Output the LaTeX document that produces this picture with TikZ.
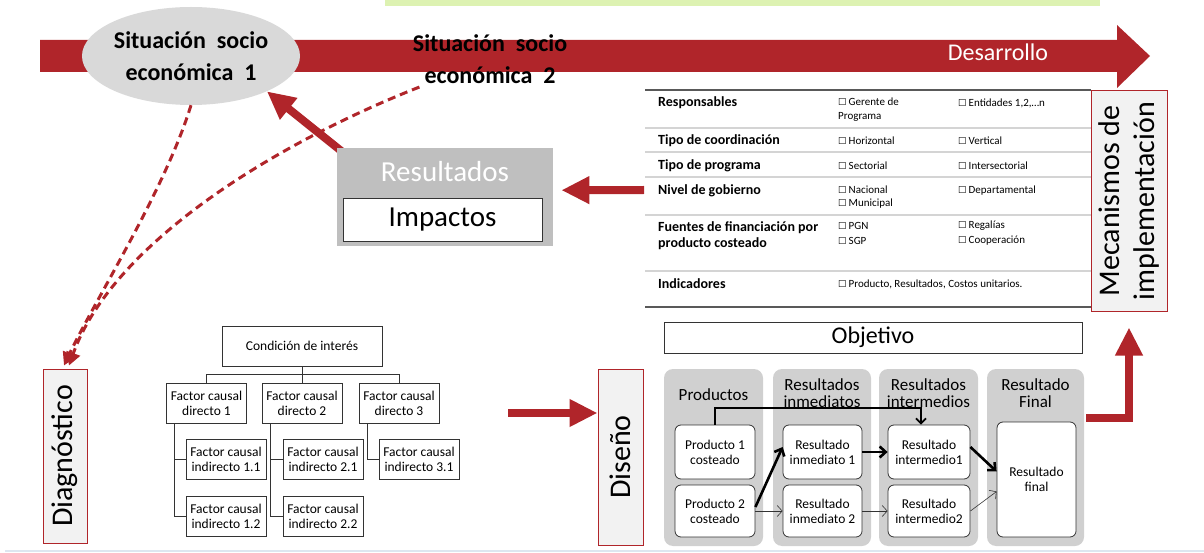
\documentclass[tikz,border=0pt]{standalone}
\usepackage{fontspec}
\setmainfont{Carlito}
\newfontfamily\symfont{DejaVu Sans}
\usepackage{tikz}
\usetikzlibrary{positioning, shapes.geometric, arrows.meta}

\definecolor{darkred}{HTML}{B0252A}
\definecolor{ellgray}{HTML}{D9D9D9}
\definecolor{resgray}{HTML}{BFBFBF}
\definecolor{colgray}{HTML}{D0D0D0}
\definecolor{boxgray}{HTML}{F2F2F2}
\definecolor{rulegray}{HTML}{D4D4D4}
\definecolor{ruledark}{HTML}{595959}
\definecolor{bannergreen}{HTML}{DDF2B2}
\definecolor{edgeblue}{HTML}{DDE6F0}

\newcommand{\fsz}[2]{\fontsize{#1}{#2}\selectfont}
\newcommand{\cb}{{\symfont\fsz{9.5}{9.5}\char"2610}\hspace{2pt}}

\tikzset{
  redarrow/.style={draw=darkred, line width=8pt, -{Triangle[length=28pt, width=26pt]}},
  dashedred/.style={draw=darkred, line width=3pt, dash pattern=on 8pt off 5pt, -{Triangle[length=13pt, width=14pt]}},
  phase/.style={draw=darkred, fill=boxgray, line width=1pt, rotate=90, inner sep=0, align=center},
  lbl/.style={anchor=west, inner sep=0, align=left, font={\bfseries\fsz{14}{16}}},
  opt/.style={anchor=west, inner sep=0, align=left, font={\fsz{11}{14}}},
  tbox/.style={draw=black!80, fill=white, line width=0.8pt, minimum width=80, minimum height=40, inner sep=1, align=center, font={\fsz{13.5}{15}}},
  dbox/.style={tbox, rounded corners=6pt, minimum height=54},
  column/.style={fill=colgray, rounded corners=9pt, minimum width=99, minimum height=177},
  colhead/.style={align=center, font={\fsz{17}{17}}},
  thickarr/.style={line width=2.6pt, -{Straight Barb[length=6pt, width=11pt]}},
  thinarr/.style={line width=0.6pt, draw=black!80, -{Straight Barb[length=5pt, width=11pt]}},
}

\begin{document}
\begin{tikzpicture}[x=1pt, y=-1pt]
\useasboundingbox (0,0) rectangle (1204,553);

% bordes de la diapositiva
\fill[bannergreen] (385,0) rectangle (1100,6);
\draw[edgeblue, line width=1.5pt] (5,551) -- (1204,551);

% flecha de desarrollo
\fill[darkred] (40,40) -- (1117,40) -- (1117,25) -- (1150,56) -- (1117,88) -- (1117,72) -- (40,72) -- cycle;
\node[text=white, font={\fsz{24}{29}}] (Dv) at (998,52) {Desarrollo};

\node[ellipse, fill=ellgray, minimum width=211, minimum height=98, inner sep=0, align=center, font={\bfseries\fsz{24}{32}}] (S1) at (191,56) {Situación~~socio\\económica~~1};
\node[align=center, font={\bfseries\fsz{24}{32}}] (S2) at (490,59) {Situación~~socio\\económica~~2};

% fases
\node[phase, minimum width=174, minimum height=44, font={\fsz{30}{30}}] (G) at (65,456) {Diagnóstico};
\node[phase, minimum width=176, minimum height=45, font={\fsz{30}{30}}] (E) at (620.5,457) {Diseño};
\node[phase, minimum width=220, minimum height=76, font={\fsz{30}{35}}] (M) at (1129,201) {Mecanismos de\\implementación};

\draw[dashedred] (S1.south) .. controls (165,190) and (95,300) .. ([xshift=-1pt,yshift=3pt]G.east);
\draw[dashedred] ([xshift=10pt]S2.south west) .. controls (260,150) and (110,250) .. ([xshift=4pt,yshift=3pt]G.east);

% resultados
\draw[redarrow] (350,158) -- (S1.-25);
\node[fill=resgray, minimum width=216, minimum height=98, anchor=north west] (R) at (337,148) {};
\node[text=white, font={\fsz{29}{29}}] (Rt) at (445,172) {Resultados};
\node[draw=black!80, fill=white, line width=0.8pt, minimum width=199, minimum height=43, inner sep=0, font={\fsz{29}{29}}] (I) at (442.5,219.5) {Impactos};

% tabla
\coordinate (TW) at (644,190);
\draw[redarrow] (TW) -- ([xshift=8pt,yshift=7pt]R.east);
\draw[ruledark, line width=1.6pt] (645,90) -- (1091,90);
\foreach \y in {128,152,177,215,271}
  \draw[rulegray, line width=1.6pt] (645,\y) -- (1091,\y);
\draw[ruledark, line width=1.6pt] (645,307) -- (1091,307);

\node[lbl] (L1) at (658,103) {Responsables};
\node[lbl] (L2) at (658,141) {Tipo de coordinación};
\node[lbl] (L3) at (658,166) {Tipo de programa};
\node[lbl] (L4) at (658,191) {Nivel de gobierno};
\node[lbl, font={\bfseries\fsz{14}{16}}] (L5) at (658,235.5) {Fuentes de financiación por\\producto costeado};
\node[lbl] (L6) at (658,284) {Indicadores};

\node[opt] (A1) at (838,110) {\cb Gerente de\\Programa};
\node[opt] (B1) at (958,103) {\cb Entidades 1,2,…n};
\node[opt] (A2) at (838,141) {\cb Horizontal};
\node[opt] (B2) at (958,141) {\cb Vertical};
\node[opt] (A3) at (838,166) {\cb Sectorial};
\node[opt] (B3) at (958,166) {\cb Intersectorial};
\node[opt, font={\fsz{11}{13}}] (A4) at (838,197.5) {\cb Nacional\\\cb Municipal};
\node[opt] (B4) at (958,191) {\cb Departamental};
\node[opt, font={\fsz{11}{15}}] (A5) at (838,233.5) {\cb PGN\\\cb SGP};
\node[opt, font={\fsz{11}{15}}] (B5) at (958,233.5) {\cb Regalías\\\cb Cooperación};
\node[opt] (A6) at (838,284) {\cb Producto, Resultados, Costos unitarios.};

% arbol del diagnostico
\node[tbox, minimum width=160] (Ro) at (302,346) {Condición de interés};
\node[tbox] (D1) at (206.5,403) {Factor causal\\directo 1};
\node[tbox] (D2) at (302,403) {Factor causal\\directo 2};
\node[tbox] (D3) at (399,403) {Factor causal\\directo 3};
\node[tbox] (I11) at (226,459) {Factor causal\\indirecto 1.1};
\node[tbox] (I12) at (226,516.5) {Factor causal\\indirecto 1.2};
\node[tbox] (I21) at (323,459) {Factor causal\\indirecto 2.1};
\node[tbox] (I22) at (323,516.5) {Factor causal\\indirecto 2.2};
\node[tbox] (I31) at (419,459) {Factor causal\\indirecto 3.1};

\draw[black!80, line width=0.8pt] (Ro.south) -- (D2.north);
\draw[black!80, line width=0.8pt] (D1.north) -- ++(0,-8) -| (D3.north);
\draw[black!80, line width=0.8pt] ([xshift=8pt]D1.south west) |- (I11.west);
\draw[black!80, line width=0.8pt] ([xshift=8pt]D1.south west) |- (I12.west);
\draw[black!80, line width=0.8pt] ([xshift=9pt]D2.south west) |- (I21.west);
\draw[black!80, line width=0.8pt] ([xshift=9pt]D2.south west) |- (I22.west);
\draw[black!80, line width=0.8pt] ([xshift=9pt]D3.south west) |- (I31.west);

\coordinate (TE) at (508,413);
\draw[redarrow] (TE) -- ([yshift=44pt]E.north);

% diseno
\node[draw=black!80, line width=0.8pt, minimum width=418, minimum height=31, inner sep=0, font={\fsz{24}{24}}] (Ob) at (873,337.5) {Objetivo};

\node[column] (C1) at (713.5,457.5) {};
\node[column, minimum width=98] (C2) at (822,457.5) {};
\node[column] (C3) at (928.5,457.5) {};
\node[column, minimum width=97] (C4) at (1035.5,457.5) {};
\node[colhead] (H1) at (713.5,395) {Productos};
\node[colhead] (H2) at (822,393.5) {Resultados\\inmediatos};
\node[colhead] (H3) at (928.5,393.5) {Resultados\\intermedios};
\node[colhead] (H4) at (1035.5,393.5) {Resultado\\Final};

\node[dbox] (P1) at (715,452) {Producto 1\\costeado};
\node[dbox, minimum height=52] (P2) at (715,511) {Producto 2\\costeado};
\node[dbox, minimum width=79] (Q1) at (822.5,452) {Resultado\\inmediato 1};
\node[dbox, minimum width=79, minimum height=52] (Q2) at (822.5,511) {Resultado\\inmediato 2};
\node[dbox, minimum width=82] (N1) at (929,452) {Resultado\\intermedio1};
\node[dbox, minimum width=82, minimum height=52] (N2) at (929,511) {Resultado\\intermedio2};
\node[dbox, minimum width=79, minimum height=115] (F) at (1036.5,479.5) {Resultado\\final};

\draw[thickarr] ([yshift=4pt]P2.east) -- ([yshift=5pt]Q1.west);
\draw[thickarr] (Q1.east) -- (N1.west);
\draw[thickarr] ([yshift=5pt]N1.east) -- ([yshift=8pt]F.west);
\draw[thinarr] (P2.east) -- (Q2.west);
\draw[thinarr] (Q2.east) -- (N2.west);
\draw[thinarr] (N2.east) -- ([yshift=-12pt]F.west);
\draw[line width=1.8pt, -{Straight Barb[length=5pt, width=10pt]}] (P1.north) -- ++(0,-17) -| ([xshift=-8pt]N1.north);

\draw[redarrow, line join=miter] (1086,418) -| ([yshift=-16pt]M.west);
\end{tikzpicture}
\end{document}
